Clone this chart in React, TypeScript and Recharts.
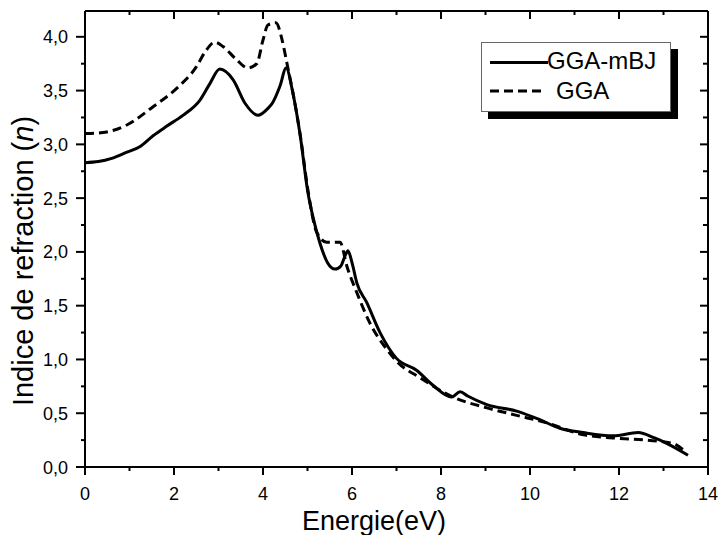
import { LineChart, Line, XAxis, YAxis, Label } from "recharts";

// Indice de refraction n(E) : GGA-mBJ vs GGA
const mbjEnergy = [
  0, 0.3, 0.6, 0.9, 1.24, 1.53, 1.84, 2.2, 2.58, 2.8, 3.03, 3.33, 3.6, 3.89,
  4.1, 4.22, 4.38, 4.52, 4.67, 4.83, 5.01, 5.12, 5.28, 5.45, 5.62, 5.75, 5.85,
  5.91, 6.0, 6.11, 6.33, 6.63, 7.0, 7.45, 7.82, 8.24, 8.43, 8.6, 9.03, 9.7,
  10.22, 10.67, 11.2, 11.87, 12.43, 12.8, 13.07, 13.55,
];
const mbjIndex = [
  2.83, 2.84, 2.87, 2.92, 2.98, 3.08, 3.17, 3.27, 3.41, 3.56, 3.7, 3.6, 3.38,
  3.27, 3.33, 3.39, 3.54, 3.71, 3.48, 3.1, 2.55, 2.33, 2.08, 1.9, 1.84, 1.87,
  1.97, 2.01, 1.9, 1.71, 1.53, 1.25, 1.01, 0.9, 0.76, 0.65, 0.7, 0.66, 0.58,
  0.52, 0.44, 0.36, 0.32, 0.29, 0.32, 0.27, 0.22, 0.11,
];

const ggaEnergy = [
  0, 0.4, 0.94, 1.53, 2.06, 2.5, 2.7, 2.92, 3.1, 3.4, 3.66, 3.86, 4.0, 4.11,
  4.29, 4.43, 4.53, 4.7, 4.85, 5.0, 5.21, 5.43, 5.73, 5.89, 6.11, 6.4, 6.79,
  7.01, 7.53, 8.27, 9.03, 9.7, 10.38, 11.2, 11.87, 12.62, 13.2, 13.5,
];
const ggaIndex = [
  3.1, 3.11, 3.18, 3.35, 3.52, 3.72, 3.86, 3.95, 3.91, 3.79, 3.71, 3.75, 3.97,
  4.11, 4.13, 3.97, 3.77, 3.42, 3.05, 2.6, 2.18, 2.09, 2.09, 1.86, 1.62, 1.34,
  1.09, 0.98, 0.83, 0.65, 0.55, 0.48, 0.41, 0.3, 0.27, 0.25, 0.22, 0.14,
];

const xTicks = [0, 1, 2, 3, 4, 5, 6, 7, 8, 9, 10, 11, 12, 13, 14];
const yTicks = [
  0, 0.25, 0.5, 0.75, 1, 1.25, 1.5, 1.75, 2, 2.25, 2.5, 2.75, 3, 3.25, 3.5,
  3.75, 4,
];

const mbjData = mbjEnergy.map((e, i) => ({ e, n: mbjIndex[i] }));
const ggaData = ggaEnergy.map((e, i) => ({ e, n: ggaIndex[i] }));

const FONT = "'Liberation Sans', Arial, sans-serif";
const fmt = (v: number) => v.toFixed(1).replace(".", ",");
const isMajorX = (v: number) => v % 2 === 0;
const isMajorY = (v: number) => Math.abs(v * 2 - Math.round(v * 2)) < 1e-6;

const BottomTick = ({ x, y, payload }: any) => {
  const major = isMajorX(payload.value);
  return (
    <g>
      <line x1={x} x2={x} y1={y} y2={y + (major ? 8 : 4)} stroke="#000" strokeWidth={2} />
      {major && (
        <text x={x} y={y + 33} textAnchor="middle" fontSize={18} fontFamily={FONT} fill="#000">
          {payload.value}
        </text>
      )}
    </g>
  );
};

const TopTick = ({ x, y, payload }: any) => {
  const major = isMajorX(payload.value);
  return <line x1={x} x2={x} y1={y} y2={y + (major ? 8 : 4)} stroke="#000" strokeWidth={2} />;
};

const LeftTick = ({ x, y, payload }: any) => {
  const major = isMajorY(payload.value);
  return (
    <g>
      <line x1={x - (major ? 9 : 4)} x2={x} y1={y} y2={y} stroke="#000" strokeWidth={2} />
      {major && (
        <text x={x - 17} y={y + 6.5} textAnchor="end" fontSize={18} fontFamily={FONT} fill="#000">
          {fmt(payload.value)}
        </text>
      )}
    </g>
  );
};

const RightTick = ({ x, y, payload }: any) => {
  const major = isMajorY(payload.value);
  return <line x1={x - (major ? 8 : 5)} x2={x} y1={y} y2={y} stroke="#000" strokeWidth={2} />;
};

const axisLine = { stroke: "#000", strokeWidth: 2 };

export default function App() {
  return (
    <div style={{ position: "absolute", left: 0, top: 0, width: 719, height: 535, background: "#fff" }}>
      <LineChart width={719} height={535} margin={{ top: 0, right: 0, bottom: 0, left: 0 }}>
        <XAxis
          type="number"
          dataKey="e"
          domain={[0, 14]}
          ticks={xTicks}
          interval={0}
          height={68}
          tickSize={0}
          tickMargin={0}
          tickLine={false}
          axisLine={axisLine}
          tick={<BottomTick />}
          allowDataOverflow
        >
          <Label
            content={() => (
              <text x={374} y={530} textAnchor="middle" fontSize={27} fontFamily={FONT} fill="#000">
                Energie(eV)
              </text>
            )}
          />
        </XAxis>
        <XAxis
          xAxisId="top"
          orientation="top"
          type="number"
          dataKey="e"
          domain={[0, 14]}
          ticks={xTicks}
          interval={0}
          height={11}
          tickSize={0}
          tickMargin={0}
          tickLine={false}
          axisLine={axisLine}
          tick={<TopTick />}
          allowDataOverflow
        />
        <YAxis
          type="number"
          domain={[0, 4.24]}
          ticks={yTicks}
          interval={0}
          width={85}
          tickSize={0}
          tickMargin={0}
          tickLine={false}
          axisLine={axisLine}
          tick={<LeftTick />}
          allowDataOverflow
        >
          <Label
            content={() => (
              <text
                x={33}
                y={261}
                transform="rotate(-90 33 261)"
                textAnchor="middle"
                fontSize={29}
                fontFamily={FONT}
                fill="#000"
              >
                Indice de refraction (<tspan fontStyle="italic">n</tspan>)
              </text>
            )}
          />
        </YAxis>
        <YAxis
          yAxisId="right"
          orientation="right"
          type="number"
          domain={[0, 4.24]}
          ticks={yTicks}
          interval={0}
          width={11}
          tickSize={0}
          tickMargin={0}
          tickLine={false}
          axisLine={axisLine}
          tick={<RightTick />}
          allowDataOverflow
        />
        <Line
          data={ggaData}
          dataKey="n"
          type="monotone"
          stroke="#000"
          strokeWidth={3}
          strokeDasharray="9 5"
          dot={false}
          activeDot={false}
          isAnimationActive={false}
        />
        <Line
          data={mbjData}
          dataKey="n"
          type="monotone"
          stroke="#000"
          strokeWidth={3}
          dot={false}
          activeDot={false}
          isAnimationActive={false}
        />
      </LineChart>

      <div
        style={{
          position: "absolute",
          left: 481,
          top: 42,
          width: 190,
          height: 70,
          boxSizing: "border-box",
          border: "1px solid #666",
          background: "#fff",
          boxShadow: "7px 7px 0 #000",
          fontFamily: FONT,
          fontSize: 24,
          color: "#000",
        }}
      >
        <div style={{ position: "absolute", left: 8, top: 18, width: 58, height: 3, background: "#000" }} />
        <div style={{ position: "absolute", left: 65, top: 3, lineHeight: "30px" }}>GGA-mBJ</div>
        <svg style={{ position: "absolute", left: 8, top: 46 }} width={52} height={4}>
          <line x1={0} x2={52} y1={2} y2={2} stroke="#000" strokeWidth={3} strokeDasharray="9 5" />
        </svg>
        <div style={{ position: "absolute", left: 74, top: 33, lineHeight: "30px" }}>GGA</div>
      </div>
    </div>
  );
}
